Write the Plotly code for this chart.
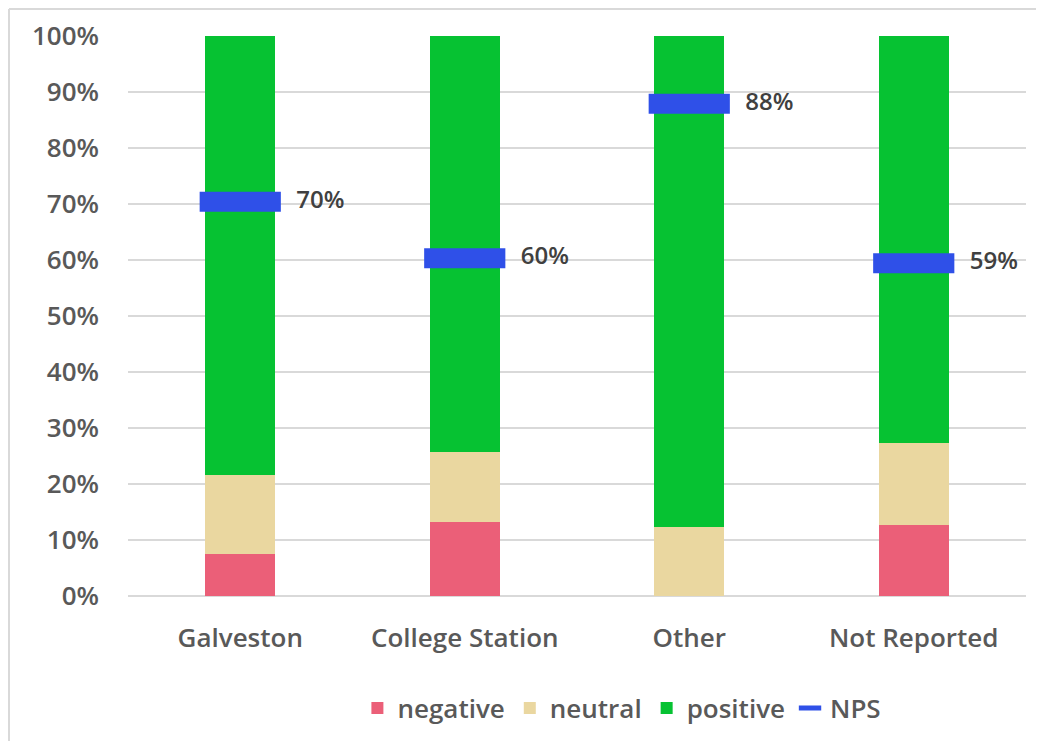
import plotly.graph_objects as go

categories = ["Galveston", "College Station", "Other", "Not Reported"]
negative = [0.075, 0.132, 0.0, 0.126]
neutral = [0.141, 0.125, 0.124, 0.147]
positive = [0.784, 0.743, 0.876, 0.727]
nps = [0.704, 0.603, 0.879, 0.594]
y_ticks = [0, 0.1, 0.2, 0.3, 0.4, 0.5, 0.6, 0.7, 0.8, 0.9, 1.0]

TXT = "#595959"
FONT = "Open Sans"
NB = "\u00a0"

fig = go.Figure()
fig.add_trace(go.Bar(x=categories, y=negative, name="negative", marker=dict(color="#EB5F78", line=dict(width=0)), width=0.31))
fig.add_trace(go.Bar(x=categories, y=neutral, name="neutral", marker=dict(color="#EAD7A0", line=dict(width=0)), width=0.31))
fig.add_trace(go.Bar(x=categories, y=positive, name="positive", marker=dict(color="#06C232", line=dict(width=0)), width=0.31))
fig.add_trace(go.Scatter(
    x=categories, y=nps, name="NPS", mode="markers+text",
    marker=dict(symbol="line-ew", size=58, line=dict(color="#2F50E8", width=20), color="#2F50E8"),
    text=[f"{NB*3}{v*100:.0f}%" for v in nps], textposition="middle right",
    textfont=dict(family=FONT, size=24, color="#404040", weight=600),
    cliponaxis=False,
))

fig.update_layout(
    width=1028, height=733,
    barmode="stack", bargap=0.69,
    paper_bgcolor="white", plot_bgcolor="white",
    margin=dict(l=120, r=10, t=28, b=141),
    font=dict(family=FONT, color=TXT, size=26),
    showlegend=True,
    legend=dict(orientation="h", x=0.55, xanchor="center", y=-0.2, yanchor="middle",
                font=dict(family=FONT, size=26, color=TXT, weight=600),
                itemwidth=30, tracegroupgap=0, traceorder="normal"),
    xaxis=dict(showgrid=False, showline=False, ticks="", ticklabelstandoff=24,
               tickfont=dict(family=FONT, size=26, color=TXT, weight=600)),
    yaxis=dict(range=[0, 1.0], tickvals=y_ticks, tickformat=".0%", showline=False, ticks="",
               showgrid=True, gridcolor="#D9D9D9", gridwidth=2,
               zeroline=True, zerolinecolor="#D9D9D9", zerolinewidth=2,
               ticklabelstandoff=28,
               tickfont=dict(family=FONT, size=26, color=TXT, weight=600)),
    shapes=[
        dict(type="line", xref="paper", yref="paper", x0=-0.1325, x1=-0.1325, y0=-0.3, y1=1.048,
             line=dict(color="#D9D9D9", width=2)),
        dict(type="line", xref="paper", yref="paper", x0=-0.1325, x1=1.02, y0=1.048, y1=1.048,
             line=dict(color="#D9D9D9", width=2)),
    ],
)

fig.write_html("out.html")
